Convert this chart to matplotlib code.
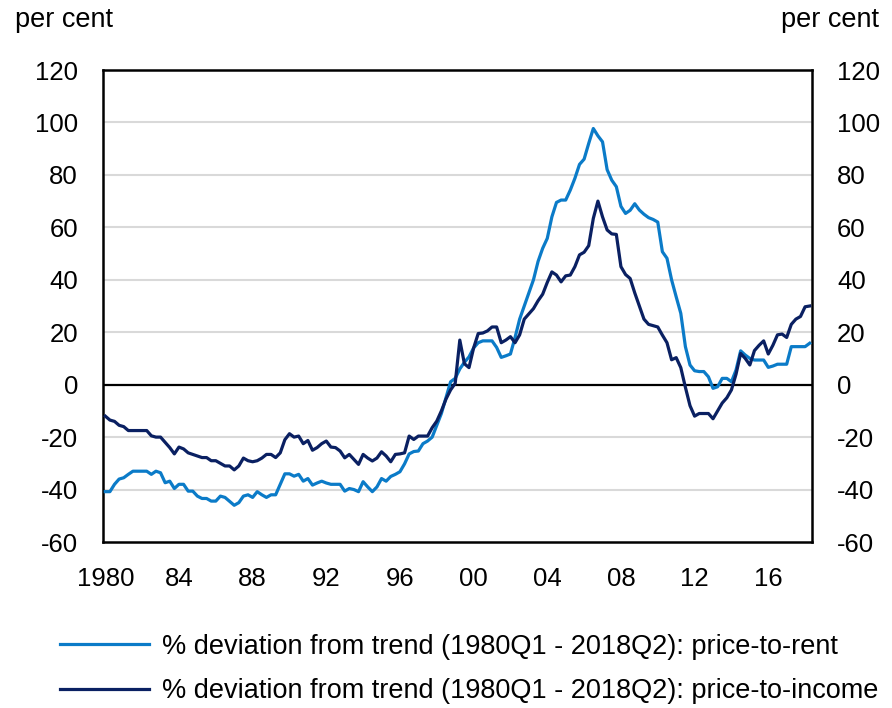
import matplotlib
matplotlib.use("Agg")
import matplotlib.pyplot as plt
import numpy as np

plt.rcParams['font.family'] = ['Liberation Sans', 'DejaVu Sans']

# Quarterly data 1980Q1 - 2018Q2 (154 quarters)
price_to_rent = [
    -40.8, -40.8, -38.0, -36.0,   # 1980
    -35.5, -34.2, -33.0, -33.0,   # 1981
    -33.0, -33.0, -34.2, -33.0,   # 1982
    -33.6, -37.4, -36.8, -39.6,   # 1983
    -38.0, -38.0, -40.6, -40.6,   # 1984
    -42.5, -43.4, -43.4, -44.4,   # 1985
    -44.4, -42.5, -43.0, -44.5,   # 1986
    -46.0, -45.0, -42.5, -42.0,   # 1987
    -43.0, -40.8, -42.0, -43.0,   # 1988
    -42.0, -42.0, -38.0, -34.0,   # 1989
    -34.0, -34.9, -34.2, -36.8,   # 1990
    -35.8, -38.3, -37.5, -36.8,   # 1991
    -37.5, -38.0, -38.0, -38.0,   # 1992
    -40.6, -39.6, -40.0, -40.8,   # 1993
    -37.0, -39.0, -40.8, -39.0,   # 1994
    -35.8, -36.8, -35.0, -34.2,   # 1995
    -33.2, -30.2, -26.4, -25.5,   # 1996
    -25.3, -22.5, -21.5, -20.0,   # 1997
    -15.5, -11.0, -5.0, 1.1,      # 1998
    2.4, 6.0, 8.5, 10.6,          # 1999
    14.0, 16.0, 16.7, 16.7,       # 2000
    16.7, 14.2, 10.4, 11.0,       # 2001
    11.7, 18.0, 25.0, 30.0,       # 2002
    35.0, 40.0, 47.0, 52.0,       # 2003
    55.8, 64.0, 69.5, 70.4,       # 2004
    70.4, 74.2, 78.7, 84.0,       # 2005
    86.0, 92.0, 97.7, 94.9,       # 2006
    92.6, 82.0, 78.0, 75.5,       # 2007
    68.0, 65.3, 66.5, 69.0,       # 2008
    66.6, 65.0, 63.7, 63.0,       # 2009
    62.0, 50.7, 48.2, 40.0,       # 2010
    33.5, 27.2, 14.5, 7.5,        # 2011
    5.3, 5.0, 5.0, 3.0,           # 2012
    -1.4, -0.8, 2.4, 2.4,         # 2013
    1.1, 5.6, 12.9, 11.3,         # 2014
    10.0, 9.4, 9.4, 9.4,          # 2015
    6.6, 7.1, 7.8, 7.8,           # 2016
    7.8, 14.5, 14.5, 14.5,        # 2017
    14.5, 15.8,                   # 2018
]

price_to_income = [
    -12.0, -13.5, -14.0, -15.5,   # 1980
    -16.0, -17.5, -17.5, -17.5,   # 1981
    -17.5, -17.5, -19.5, -20.0,   # 1982
    -20.0, -22.0, -24.0, -26.4,   # 1983
    -23.8, -24.5, -26.0, -26.6,   # 1984
    -27.2, -27.8, -27.8, -29.0,   # 1985
    -29.0, -30.0, -31.0, -31.0,   # 1986
    -32.5, -31.0, -28.0, -29.0,   # 1987
    -29.4, -29.0, -28.0, -26.6,   # 1988
    -26.6, -27.8, -26.0, -21.0,   # 1989
    -18.7, -20.0, -19.6, -22.5,   # 1990
    -21.3, -25.0, -24.0, -22.5,   # 1991
    -21.5, -23.8, -24.0, -25.3,   # 1992
    -27.9, -26.6, -28.5, -30.4,   # 1993
    -26.6, -28.0, -29.1, -28.0,   # 1994
    -25.6, -27.2, -29.4, -26.6,   # 1995
    -26.4, -26.0, -19.6, -20.9,   # 1996
    -19.6, -19.6, -19.6, -16.4,   # 1997
    -13.9, -10.0, -5.5, -2.0,     # 1998
    0.5, 17.0, 8.0, 6.5,          # 1999
    14.0, 19.5, 19.7, 20.5,       # 2000
    22.0, 22.0, 16.0, 17.0,       # 2001
    18.3, 16.0, 19.0, 25.0,       # 2002
    27.0, 29.0, 32.0, 34.5,       # 2003
    39.0, 43.0, 41.8, 39.2,       # 2004
    41.5, 41.8, 45.0, 49.5,       # 2005
    50.5, 53.0, 63.4, 70.0,       # 2006
    64.0, 59.0, 57.5, 57.3,       # 2007
    45.0, 42.0, 40.5, 35.0,       # 2008
    30.0, 25.0, 23.0, 22.5,       # 2009
    22.0, 18.9, 16.0, 9.5,        # 2010
    10.3, 6.5, -1.0, -8.0,        # 2011
    -12.0, -11.0, -11.0, -11.0,   # 2012
    -13.0, -10.0, -7.0, -5.0,     # 2013
    -2.0, 4.0, 11.9, 10.0,        # 2014
    7.5, 13.0, 15.0, 16.7,        # 2015
    11.7, 15.0, 19.0, 19.3,       # 2016
    18.0, 23.0, 25.0, 26.0,       # 2017
    29.7, 30.0,                   # 2018
]

tick_positions = [0, 16, 32, 48, 64, 80, 96, 112, 128, 144]
tick_labels = ["1980", "84", "88", "92", "96", "00", "04", "08", "12", "16"]
y_ticks = [120, 100, 80, 60, 40, 20, 0, -20, -40, -60]

label_rent = "% deviation from trend (1980Q1 - 2018Q2): price-to-rent"
label_income = "% deviation from trend (1980Q1 - 2018Q2): price-to-income"

W, H = 892, 708
fig = plt.figure(figsize=(W / 100, H / 100), dpi=100)
ax = fig.add_axes([103 / W, 1 - 542 / H, (812 - 103) / W, (542 - 70) / H])

x = np.arange(len(price_to_rent))

for yv in y_ticks:
    if yv not in (0, 120, -60):
        ax.axhline(yv, color='#d9d9d9', lw=1.5, zorder=1)
ax.axhline(0, color='black', lw=1.6, zorder=2)

l1, = ax.plot(x, price_to_rent, color='#0B7BC8', lw=2.3, zorder=3, label=label_rent)
l2, = ax.plot(x, price_to_income, color='#0A2062', lw=2.3, zorder=4, label=label_income)

ax.set_xlim(-0.5, len(x) - 0.5)
ax.set_ylim(-60, 120)
ax.set_yticks(y_ticks)
ax.set_yticklabels([str(v) for v in y_ticks])
ax.set_xticks(tick_positions)
ax.set_xticklabels(tick_labels)

ax.tick_params(axis='both', length=0, labelsize=18.5)
ax.tick_params(axis='y', pad=18, labelright=True)
ax.tick_params(axis='x', pad=18)

for s in ax.spines.values():
    s.set_linewidth(1.8)
    s.set_color('black')

fig.text(15 / W, 1 - 20 / H, "per cent", fontsize=19.5, ha='left', va='center')
fig.text(879 / W, 1 - 20 / H, "per cent", fontsize=19.5, ha='right', va='center')

fig.legend(handles=[l1, l2], loc='center left',
           bbox_to_anchor=(60 / W, 1 - 669 / H), frameon=False,
           fontsize=19.5, handlelength=3.3, handletextpad=0.45,
           labelspacing=0.68, borderpad=0, borderaxespad=0)

fig.savefig("out.png", dpi=100)
